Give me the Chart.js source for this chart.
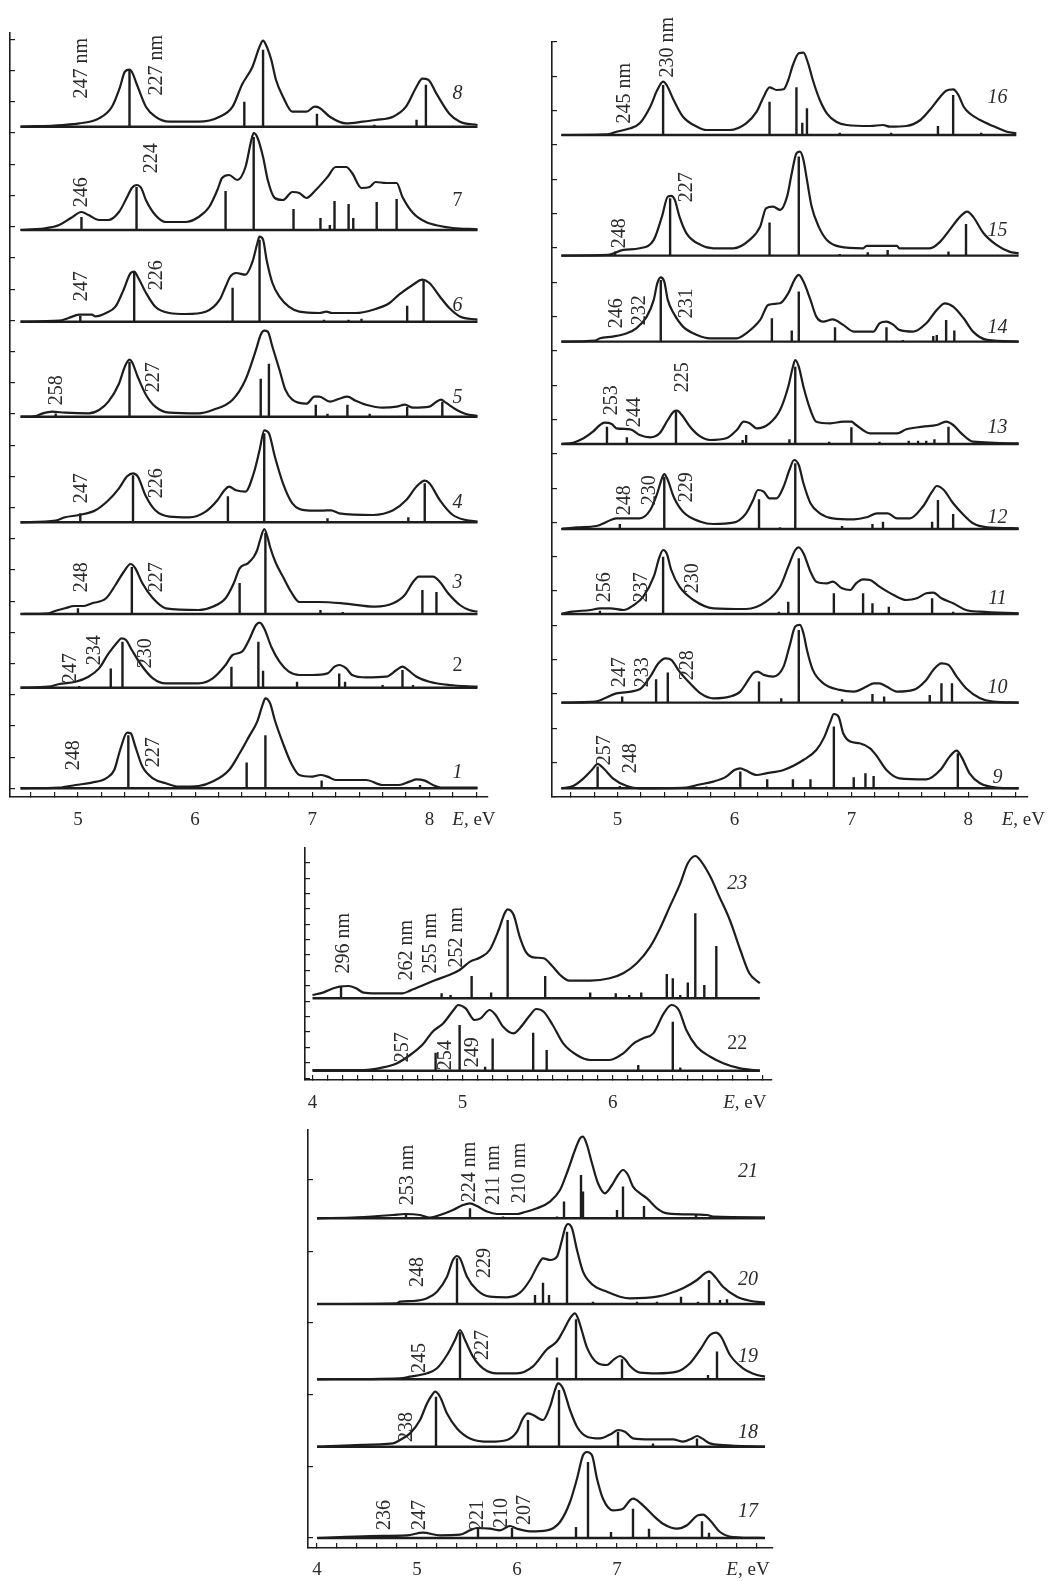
<!DOCTYPE html>
<html>
<head>
<meta charset="utf-8">
<script src="https://cdn.jsdelivr.net/npm/chart.js@4.4.1/dist/chart.umd.min.js"></script>
<style>
  body { margin: 0; background: #fff; width: 1048px; height: 1581px; position: relative; overflow: hidden; }
  canvas { position: absolute; }
</style>
</head>
<body>
<canvas id="panelA" width="520" height="835" style="left:0px;top:0px"></canvas>
<canvas id="panelB" width="518" height="835" style="left:530px;top:0px"></canvas>
<canvas id="panelC" width="500" height="285" style="left:280px;top:835px"></canvas>
<canvas id="panelD" width="500" height="461" style="left:280px;top:1120px"></canvas>
<script>
// spectra: [E (eV), intensity (arb. units)], sticks: [E, height]
const curve1 = [[4.51,0],[4.84,0.7],[4.98,3.3],[5.12,5.7],[5.24,10],[5.31,18.3],[5.36,38.3],[5.42,55.7],[5.45,55],[5.49,41.7],[5.55,21.7],[5.64,10],[5.75,5],[5.86,1.7],[6.03,2.3],[6.15,6.7],[6.29,18.3],[6.38,35],[6.46,51.7],[6.53,66.7],[6.58,85],[6.60,90],[6.64,85],[6.68,68.3],[6.75,45],[6.82,25],[6.89,13.3],[7.00,11.7],[7.07,13.3],[7.13,11.7],[7.20,8.3],[7.46,8.3],[7.60,3.3],[7.74,3.3],[7.83,6.7],[7.89,9],[7.96,7.7],[8.03,3.3],[8.11,0.7],[8.41,0.7]];
const sticks1 = [[5.43,53],[6.44,25.7],[6.60,53],[7.08,7.7],[7.92,3.3]];

const curve2 = [[4.51,0],[4.75,1],[4.84,3.7],[4.98,6],[5.09,11],[5.18,19.3],[5.26,34],[5.34,46],[5.37,49.3],[5.41,47.7],[5.46,37.7],[5.54,22.7],[5.64,9.3],[5.75,4.3],[6.03,4.3],[6.15,9.3],[6.26,22.7],[6.32,32.7],[6.40,36],[6.46,47.7],[6.52,62.7],[6.55,65],[6.59,59.3],[6.65,41],[6.72,26],[6.80,16],[6.89,12.7],[7.00,12.7],[7.13,14.3],[7.19,21],[7.23,22.7],[7.29,19.3],[7.34,12.7],[7.46,10.3],[7.63,11],[7.72,17.7],[7.77,21],[7.81,18.3],[7.89,11],[8.00,6],[8.17,2.7],[8.41,1]];
const sticks2 = [[5.01,1.7],[5.28,19.3],[5.38,46],[6.31,21],[6.54,46],[6.58,17],[6.87,6],[7.23,14.3],[7.28,6],[7.60,2.7],[7.77,17.7],[7.86,2.7]];

const curve3 = [[4.51,0],[4.75,0.7],[4.81,3.3],[4.89,5.7],[4.97,8],[5.05,8],[5.12,10.7],[5.24,15.7],[5.32,29],[5.39,42],[5.45,50],[5.49,45.7],[5.55,30.7],[5.64,15.7],[5.75,5.7],[6.03,4],[6.15,7.3],[6.26,15.7],[6.33,30.7],[6.38,45.7],[6.45,50.7],[6.50,57],[6.53,64],[6.56,76],[6.59,85],[6.62,76],[6.64,67],[6.69,50.7],[6.75,37.3],[6.82,22],[6.89,12],[7.06,12],[7.26,10.7],[7.54,7.3],[7.69,10.7],[7.79,19],[7.86,32],[7.91,37.3],[8.03,37.3],[8.09,32],[8.16,20.7],[8.26,9],[8.34,4],[8.41,2.3]];
const sticks3 = [[5.00,5.7],[5.46,47],[6.38,31],[6.60,81],[7.07,4],[7.26,2],[7.94,24],[8.06,22]];

const curve4 = [[4.51,0],[4.81,1.7],[4.89,5],[5.01,7.3],[5.15,12],[5.26,22],[5.35,34],[5.42,46],[5.47,49],[5.51,46],[5.58,26],[5.66,12],[5.78,5.7],[5.95,5],[6.09,10.7],[6.19,22],[6.25,32],[6.29,35.7],[6.35,32],[6.43,30.7],[6.50,49],[6.55,72],[6.59,92],[6.63,89],[6.68,66],[6.75,39],[6.83,19],[6.95,12],[7.09,11.7],[7.16,12],[7.23,9],[7.52,7.3],[7.69,12],[7.80,22],[7.89,35.7],[7.96,41.7],[8.00,39],[8.09,22],[8.20,7.3],[8.31,2.3],[8.41,0.7]];
const sticks4 = [[5.02,9],[5.47,47],[6.28,26],[6.59,89],[7.13,4],[7.82,5],[7.96,39]];

const curve5 = [[4.51,0],[4.64,0.7],[4.70,3.3],[4.78,5],[4.89,4],[5.09,3.3],[5.18,6.7],[5.26,15],[5.35,33],[5.40,50],[5.44,57],[5.46,55],[5.51,40],[5.58,22],[5.66,10],[5.78,4],[6.03,3.3],[6.15,6.7],[6.32,17],[6.43,37],[6.52,67],[6.56,82],[6.59,86],[6.62,85],[6.66,70],[6.72,47],[6.77,27],[6.83,17],[6.95,13],[7.02,20],[7.06,20],[7.15,15],[7.23,18],[7.30,20],[7.37,16],[7.46,12],[7.60,9],[7.72,10],[7.79,12],[7.86,9],[8.00,10],[8.06,15],[8.10,17],[8.14,14],[8.23,7],[8.31,2.7],[8.41,0.7]];
const sticks5 = [[4.81,3.3],[5.44,55],[6.56,38],[6.63,53],[7.03,12],[7.13,3],[7.30,12],[7.49,3],[7.81,10],[8.11,15]];

const curve6 = [[4.51,0],[4.84,1],[4.92,3.7],[5.01,7],[5.12,7],[5.15,5.3],[5.24,8.7],[5.32,15],[5.39,32],[5.45,48.7],[5.48,50],[5.51,45],[5.58,29],[5.66,15],[5.78,8.7],[5.92,7.7],[6.09,10],[6.21,22],[6.26,35],[6.30,45],[6.35,48.7],[6.43,47],[6.49,60],[6.53,78],[6.55,85],[6.58,82],[6.61,62],[6.66,38.7],[6.72,25],[6.80,15],[6.89,10],[7.06,8.7],[7.12,10],[7.17,8.7],[7.37,8.7],[7.52,12],[7.66,18.7],[7.74,27],[7.86,37],[7.94,42],[8.00,38.7],[8.09,25],[8.17,13.7],[8.26,5.3],[8.41,2]];
const sticks6 = [[5.02,6],[5.48,50],[6.32,34],[6.55,82],[7.10,2],[7.31,2],[7.42,3],[7.81,16],[7.95,42]];

const curve7 = [[4.51,0],[4.61,0.7],[4.72,1.7],[4.84,5],[4.94,12],[5.03,18],[5.09,15],[5.18,10],[5.26,10],[5.35,18],[5.42,33],[5.46,42],[5.50,45],[5.54,42],[5.58,30],[5.66,15],[5.75,8],[5.92,8],[6.03,13],[6.12,23],[6.19,40],[6.23,52],[6.29,55],[6.36,50],[6.43,63],[6.48,90],[6.50,97],[6.53,93],[6.58,73],[6.62,50],[6.68,32],[6.75,30],[6.83,38],[6.89,37],[6.95,32],[7.03,40],[7.13,53],[7.20,63],[7.29,63],[7.34,57],[7.42,42],[7.49,43],[7.54,48],[7.63,47],[7.72,47],[7.77,33],[7.86,17],[7.97,8],[8.09,4],[8.20,2],[8.41,0.7]];
const sticks7 = [[5.03,13],[5.50,43],[6.04,1],[6.26,39],[6.50,93],[6.84,21],[7.01,1],[7.07,12],[7.15,5],[7.19,29],[7.31,26],[7.35,12],[7.55,28],[7.72,31],[7.78,1]];

const curve8 = [[4.51,0],[4.87,1.7],[5.01,3.3],[5.18,8.3],[5.29,20],[5.36,40],[5.40,55],[5.44,57],[5.46,55],[5.51,40],[5.58,20],[5.66,10],[5.78,5],[6.03,5],[6.21,10],[6.32,20],[6.40,42],[6.49,60],[6.55,80],[6.58,86],[6.60,83],[6.65,67],[6.69,47],[6.75,30],[6.83,15],[6.95,15],[7.02,20],[7.06,19],[7.15,10],[7.29,3.3],[7.43,5],[7.54,6.7],[7.69,10],[7.80,20],[7.89,40],[7.94,48],[7.99,47],[8.06,33],[8.17,13],[8.26,5],[8.41,1.7]];
const sticks8 = [[5.44,57],[6.42,25],[6.58,77],[7.04,13],[7.53,2],[7.89,7],[7.97,42]];

const curve9 = [[4.52,0],[4.62,2.3],[4.71,10],[4.78,18.3],[4.83,24.3],[4.88,20],[4.96,10],[5.08,2.3],[5.19,0],[5.59,0.7],[5.68,3.3],[5.82,6.7],[5.93,11.7],[6.00,18.3],[6.05,20],[6.10,17.7],[6.19,13.3],[6.27,15],[6.42,18.3],[6.59,28.3],[6.70,38.3],[6.77,51.7],[6.82,66.7],[6.85,74.3],[6.89,71.7],[6.93,55],[6.99,46.7],[7.07,45],[7.16,40],[7.22,31.7],[7.30,18.3],[7.41,10],[7.64,9],[7.76,18.3],[7.84,31.7],[7.90,37.7],[7.94,31.7],[8.01,15],[8.10,5],[8.24,0.7],[8.43,0]];
const sticks9 = [[4.83,21.7],[5.02,2.3],[5.76,1.7],[6.05,16.7],[6.28,9],[6.50,9],[6.65,9],[6.85,61.7],[7.02,11],[7.12,15],[7.19,12.3],[7.91,35]];

const curve10 = [[4.52,0],[4.81,1],[4.89,4.3],[4.99,9.3],[5.19,13.3],[5.28,26],[5.35,39.3],[5.41,44.3],[5.46,42.7],[5.53,31],[5.62,19.3],[5.71,9.3],[5.82,4.3],[5.96,6],[6.05,11],[6.10,19.3],[6.16,29.3],[6.20,31],[6.25,27.7],[6.33,26],[6.42,36],[6.47,56],[6.52,76],[6.56,77.7],[6.59,69.3],[6.62,52.7],[6.67,32.7],[6.76,19.3],[6.90,12.7],[7.02,11],[7.13,16],[7.19,19.3],[7.24,19.3],[7.30,16],[7.39,11],[7.53,12.7],[7.64,22.7],[7.70,32.7],[7.77,39.3],[7.83,37.7],[7.90,26],[7.98,14.3],[8.10,4.3],[8.21,1],[8.43,0]];
const sticks10 = [[5.04,6],[5.33,23.3],[5.43,30],[6.21,21],[6.40,4.3],[6.55,72.7],[6.92,3.3],[7.18,8.7],[7.28,6],[7.67,7.7],[7.77,19.3],[7.86,19.3]];

const curve11 = [[4.52,0],[4.61,2.3],[4.77,4],[4.85,5.7],[4.94,5.7],[5.05,4],[5.14,9],[5.22,17.3],[5.31,37.3],[5.36,57.3],[5.39,64],[5.42,60.7],[5.46,44],[5.53,27.3],[5.65,14],[5.82,5.7],[6.10,5],[6.27,12.3],[6.39,27.3],[6.46,47.3],[6.52,64],[6.55,66.7],[6.59,60.7],[6.65,42.3],[6.70,32.3],[6.79,30.7],[6.84,32.3],[6.92,25.7],[6.99,24],[7.04,30.7],[7.10,34.7],[7.16,34],[7.24,27.3],[7.36,19],[7.47,14],[7.56,15.7],[7.64,20.7],[7.70,21.3],[7.77,15.7],[7.87,10.7],[7.98,4],[8.10,2.3],[8.43,0.7]];
const sticks11 = [[4.85,3.3],[5.39,57.3],[6.38,2.3],[6.46,12.3],[6.55,55.7],[6.85,20.7],[7.10,20.7],[7.18,10.7],[7.32,7.3],[7.69,15.7],[7.87,2.3]];

const curve12 = [[4.52,0],[4.65,1.7],[4.82,3],[4.91,7.3],[4.99,10.7],[5.19,10.7],[5.28,19],[5.34,35.7],[5.38,50.7],[5.40,55],[5.43,49],[5.48,32.3],[5.56,17.3],[5.71,7.3],[5.82,5],[5.99,6.3],[6.10,15.7],[6.16,29],[6.20,39],[6.25,37.3],[6.30,30.7],[6.36,30.7],[6.42,42.3],[6.47,59],[6.51,69],[6.55,64],[6.59,45.7],[6.65,25.7],[6.73,15.7],[6.84,10.7],[7.02,9.7],[7.13,11.7],[7.22,15.7],[7.31,15.7],[7.39,10.7],[7.50,10.7],[7.61,22.3],[7.69,37.3],[7.73,43],[7.79,39],[7.87,25.7],[7.96,14],[8.04,5.7],[8.16,1.7],[8.43,0.7]];
const sticks12 = [[5.02,5],[5.40,52.3],[6.21,29.7],[6.39,1.7],[6.52,65.7],[6.92,3],[7.18,5],[7.27,7.3],[7.69,7.3],[7.74,29],[7.87,15]];

const curve13 = [[4.52,0],[4.62,1.3],[4.71,5.7],[4.79,12.3],[4.85,19],[4.89,21.3],[4.95,20],[4.99,15.7],[5.11,14.7],[5.19,9],[5.28,6.7],[5.36,10.7],[5.43,24],[5.48,32.3],[5.51,33.3],[5.55,29],[5.62,17.3],[5.71,7.3],[5.79,4],[5.93,5.7],[6.02,14],[6.08,22.3],[6.13,20.7],[6.19,15.7],[6.30,20.7],[6.39,34],[6.46,57.3],[6.50,77.3],[6.52,84],[6.55,77.3],[6.59,57.3],[6.65,34],[6.70,22.3],[6.82,20.7],[6.93,22.3],[7.00,22.3],[7.04,19],[7.16,10.7],[7.39,10.7],[7.47,14.7],[7.61,17.3],[7.73,19],[7.81,22.3],[7.87,19],[7.94,10.7],[8.04,2.3],[8.43,0.7]];
const sticks13 = [[4.91,17.3],[5.08,6.7],[5.50,32.3],[6.07,4],[6.10,9],[6.47,4.7],[6.52,77.3],[6.81,2.3],[7.00,16.7],[7.24,2.3],[7.49,3.3],[7.57,3.3],[7.64,3.3],[7.71,4.7],[7.83,17.3]];

const curve14 = [[4.52,0],[4.81,1],[4.85,3.3],[4.96,5],[5.08,8.3],[5.16,13.3],[5.25,25],[5.31,41.7],[5.34,58.3],[5.37,64.3],[5.40,60],[5.43,41.7],[5.48,28.3],[5.56,15],[5.68,6.7],[5.79,3.3],[6.02,3.3],[6.10,8.3],[6.22,21.7],[6.29,36.7],[6.39,38.3],[6.46,48.3],[6.52,63.3],[6.55,66.7],[6.59,60],[6.65,41.7],[6.70,25],[6.76,20],[6.84,22.3],[6.93,16.7],[7.02,10],[7.19,10],[7.24,18.3],[7.30,20],[7.36,16.7],[7.41,11.7],[7.53,10],[7.64,18.3],[7.73,31.7],[7.80,38.3],[7.87,35],[7.96,23.3],[8.04,10],[8.16,1.7],[8.43,0]];
const sticks14 = [[5.37,61.7],[6.32,23.3],[6.49,11],[6.55,50],[6.86,14.3],[7.30,14.3],[7.44,1.7],[7.70,5.7],[7.73,6.7],[7.81,21.7],[7.88,11]];

const curve15 = [[4.52,0],[4.92,0.7],[5.05,5.7],[5.19,7.3],[5.31,15.7],[5.38,39],[5.43,59],[5.46,59.7],[5.49,55.7],[5.53,39],[5.59,22.3],[5.71,10.7],[5.82,7.3],[5.99,7.3],[6.13,15.7],[6.22,29],[6.27,47.3],[6.33,49],[6.39,45.7],[6.45,59],[6.49,82.3],[6.53,102.3],[6.56,104],[6.59,95.7],[6.62,75.7],[6.66,49],[6.72,29],[6.79,15.7],[6.90,9],[7.10,7.3],[7.13,9.7],[7.39,9.7],[7.41,7.3],[7.67,7.3],[7.76,14],[7.84,25.7],[7.93,39],[7.99,44],[8.04,39],[8.13,22.3],[8.24,10.7],[8.35,4],[8.43,2.3]];
const sticks15 = [[4.98,4],[5.45,57.3],[6.30,33],[6.55,99],[6.90,1.7],[7.14,3.3],[7.31,5.7],[7.83,4],[7.98,31.7]];

const curve16 = [[4.52,0],[4.92,0.7],[4.99,3.3],[5.11,6.7],[5.19,11.7],[5.28,28.3],[5.34,45],[5.39,53.3],[5.42,50],[5.48,35],[5.56,18.3],[5.68,8.3],[5.76,5],[5.96,5],[6.10,11.7],[6.19,23.3],[6.25,38.3],[6.30,47.7],[6.36,45],[6.42,45.7],[6.46,55],[6.50,70],[6.55,81.7],[6.59,82.3],[6.63,71.7],[6.67,55],[6.73,35],[6.79,21.7],[6.87,13.3],[6.96,10],[7.16,9],[7.27,10],[7.33,8.3],[7.47,9],[7.59,15],[7.67,25],[7.76,38.3],[7.81,44.3],[7.87,45.7],[7.91,41],[7.96,28.3],[8.01,21.7],[8.10,15],[8.21,9],[8.33,3.3],[8.41,1.7]];
const sticks16 = [[5.39,50],[6.30,33.3],[6.53,47.7],[6.58,12.3],[6.62,26.7],[6.90,2.3],[7.34,2.3],[7.74,9],[7.87,40],[8.11,2.3]];

const curve17 = [[4.00,0],[4.53,2],[4.90,2.7],[5.06,5.3],[5.23,2.7],[5.43,3.3],[5.53,7.7],[5.60,10],[5.73,9.3],[5.83,7.7],[5.93,12],[6.00,9.3],[6.13,6.7],[6.30,7.7],[6.43,16],[6.53,36],[6.60,59.3],[6.66,82.7],[6.70,86],[6.75,82.7],[6.80,59.3],[6.86,39.3],[6.96,27.7],[7.06,29.3],[7.13,37.7],[7.16,39.3],[7.26,32.7],[7.36,22.7],[7.46,14.3],[7.60,9.3],[7.70,12.7],[7.81,22.7],[7.86,23.3],[7.93,17.7],[8.03,6],[8.16,1],[8.48,0]];
const sticks17 = [[5.61,9.3],[5.95,10],[6.59,11],[6.71,76],[6.94,6],[7.16,29.3],[7.32,9.3],[7.85,16.7],[7.92,5.3]];

const curve18 = [[4.00,0],[4.38,1.7],[4.76,3.3],[4.83,6.7],[4.93,13.3],[5.03,26.7],[5.10,43.3],[5.15,51.7],[5.18,55],[5.23,50],[5.30,33.3],[5.40,18.3],[5.53,8.3],[5.73,5],[5.90,6.7],[6.00,15],[6.06,28.3],[6.11,33.3],[6.16,31.7],[6.26,26.7],[6.33,40],[6.38,56.7],[6.41,63.3],[6.46,58.3],[6.53,36.7],[6.60,20],[6.70,10],[6.83,8.3],[6.95,13.3],[7.01,16.7],[7.08,15],[7.16,8.3],[7.33,7.3],[7.56,7.3],[7.66,5],[7.75,8.3],[7.80,10.7],[7.85,8.3],[7.93,3.3],[8.06,1.7],[8.48,0]];
const sticks18 = [[5.19,50],[6.11,26.7],[6.42,56.7],[7.01,15],[7.36,3.3],[7.80,8.3]];

const curve19 = [[4.00,0],[4.83,1],[4.93,2.7],[5.10,6],[5.20,11],[5.30,24.3],[5.38,39.3],[5.43,49.3],[5.48,39.3],[5.56,22.7],[5.66,11],[5.80,6],[6.00,6],[6.16,13],[6.30,30],[6.40,38],[6.46,48],[6.53,61],[6.58,66],[6.62,58],[6.65,48],[6.70,31.7],[6.80,16.7],[6.90,14.3],[6.97,20],[7.03,23.3],[7.08,20],[7.13,13.3],[7.23,6.7],[7.40,6],[7.60,7.7],[7.73,16],[7.83,29.3],[7.93,44.3],[7.99,46.7],[8.04,42.7],[8.13,24.3],[8.26,11],[8.40,4.3],[8.48,2.7]];
const sticks19 = [[5.43,47],[6.40,21.7],[6.59,60],[7.05,20],[7.91,4.3],[8.00,27.7]];

const curve20 = [[4.00,0],[4.80,0.7],[4.83,2.3],[4.96,3],[5.10,5.7],[5.20,12.3],[5.30,27.3],[5.36,44],[5.40,48],[5.43,45.7],[5.50,27.3],[5.60,14],[5.73,7.3],[5.90,6.7],[6.03,11.3],[6.13,24],[6.21,39],[6.26,45.7],[6.33,44],[6.40,47.3],[6.45,64],[6.48,75.7],[6.51,80],[6.55,75.7],[6.60,54],[6.66,32.3],[6.76,19],[6.90,12.3],[7.03,7.3],[7.13,5.7],[7.40,7.3],[7.53,10.7],[7.66,15.7],[7.80,24],[7.88,30.7],[7.92,32.3],[7.98,27.3],[8.06,17.3],[8.20,7.3],[8.33,3.3],[8.48,1.3]];
const sticks20 = [[5.40,45.7],[6.18,9],[6.26,21.3],[6.32,9],[6.50,72.3],[6.76,2.3],[7.20,2.3],[7.40,2.3],[7.64,7.3],[7.81,2.3],[7.92,24],[8.03,4],[8.10,4.7]];

const curve21 = [[4.00,0],[4.40,1],[4.76,3.3],[4.88,4.3],[5.03,3.3],[5.13,0.7],[5.23,3.3],[5.36,8.3],[5.46,13.3],[5.53,15],[5.60,12.3],[5.70,6.7],[5.80,4.3],[6.00,4.3],[6.06,5.7],[6.20,10],[6.33,16.7],[6.43,28.3],[6.51,48.3],[6.58,68.3],[6.63,80],[6.66,81.7],[6.70,73.3],[6.75,55],[6.81,35],[6.88,25],[6.95,33.3],[7.01,43.3],[7.06,48.3],[7.11,43.3],[7.16,31.7],[7.23,25],[7.30,20],[7.40,10],[7.50,5],[7.90,3.3],[7.96,1.7],[8.48,1]];
const sticks21 = [[4.89,3.3],[5.53,10],[5.86,1.7],[6.40,1.7],[6.47,16.7],[6.64,43.3],[6.66,26.7],[7.00,8.3],[7.06,31.7],[7.21,1],[7.27,12.3],[7.79,3.3]];

const curve22 = [[4.00,0.7],[4.34,0.7],[4.47,3.3],[4.56,7.3],[4.65,15.7],[4.74,27.3],[4.80,39],[4.87,47.3],[4.94,60.7],[4.97,65.7],[5.02,62.3],[5.08,50.7],[5.12,52.3],[5.18,60.7],[5.22,55.7],[5.27,44],[5.34,37.3],[5.38,42.3],[5.45,55.7],[5.49,61.7],[5.54,59],[5.60,45.7],[5.67,27.3],[5.76,15.7],[5.85,10.7],[5.98,10.7],[6.07,17.3],[6.14,27.3],[6.20,32.3],[6.27,37.3],[6.34,57.3],[6.39,65.7],[6.44,60.7],[6.49,40.7],[6.56,24],[6.65,14],[6.74,7.3],[6.85,2.3],[6.98,0]];
const sticks22 = [[4.82,18],[4.98,45.7],[5.15,4],[5.20,32.3],[5.47,38],[5.56,20.7],[6.17,5.7],[6.40,49],[6.45,3.3]];

const curve23 = [[4.00,3.3],[4.07,5.7],[4.14,10],[4.18,11.7],[4.24,12.3],[4.29,10],[4.34,5.7],[4.42,5],[4.60,5],[4.65,7.7],[4.74,13.3],[4.82,18.3],[4.91,23.3],[4.98,28.3],[5.05,36.7],[5.12,41],[5.18,48.3],[5.24,68.3],[5.28,85],[5.30,89],[5.34,83.3],[5.38,61.7],[5.42,46.7],[5.47,41],[5.54,40],[5.60,31.7],[5.65,23.3],[5.71,17.7],[5.85,17.7],[5.98,20],[6.07,25],[6.16,35],[6.25,51.7],[6.31,68.3],[6.38,91.7],[6.45,115],[6.50,135],[6.55,142.3],[6.59,136.7],[6.65,121.7],[6.71,101.7],[6.78,78.3],[6.85,48.3],[6.91,25],[6.98,15]];
const sticks23 = [[4.19,11.7],[4.86,5],[4.92,3.3],[5.06,22.3],[5.19,5.7],[5.30,78.3],[5.55,22.3],[5.85,5.7],[6.02,5],[6.11,3.3],[6.19,5.7],[6.36,24.3],[6.40,20],[6.45,3.3],[6.50,15.7],[6.55,85],[6.61,13.3],[6.69,52.3]];

// vertical offsets of the stacked spectra
const offsetsA = [0, 100.6, 174.3, 266, 371.6, 466.6, 558.3, 661.6];   // curves 1-8
const offsetsB = [0, 85.7, 174.3, 259.3, 344.3, 446.7, 532.7, 653.3];  // curves 9-16
const offsetsC = [7.6, 80];                                            // curves 22-23
const offsetsD = [0, 91.3, 158.7, 234, 319.7];                         // curves 17-21

// tick labels on the energy axes
const ticksA = [5, 6, 7, 8];
const ticksB = [5, 6, 7, 8];
const ticksC = [4, 5, 6];
const ticksD = [4, 5, 6, 7];

// wavelength notes: [text, E, level]
const notesA = [['247 nm',5.03,720],['227 nm',5.67,723],['246',5.03,596],['224',5.63,630],['247',5.03,502],['226',5.67,513],['258',4.82,398],['227',5.65,411],['247',5.03,300],['226',5.67,305],['248',5.03,211],['227',5.67,211],['247',4.94,120],['234',5.14,138],['230',5.58,135],['248',4.96,33],['227',5.65,36]];
const notesB = [['245 nm',5.06,695],['230 nm',5.43,741],['248',5.02,555],['227',5.59,601],['246',4.99,475],['232',5.19,478],['231',5.59,485],['253',4.95,388],['244',5.15,376],['225',5.56,411],['248',5.06,288],['230',5.28,298],['229',5.59,301],['256',4.89,201],['237',5.21,201],['230',5.64,210],['247',5.02,116],['233',5.22,116],['228',5.60,123],['257',4.89,38],['248',5.11,30]];
const notesC = [['296 nm',4.21,135],['262 nm',4.63,128],['255 nm',4.79,135],['252 nm',4.96,141],['257',4.60,31],['254',4.89,23],['249',5.07,26]];
const notesD = [['253 nm',4.91,363],['224 nm',5.53,366],['211 nm',5.77,363],['210 nm',6.03,365],['248',5.01,266],['229',5.68,275],['245',5.03,180],['227',5.66,193],['238',4.90,111],['236',4.68,23],['247',5.03,23],['221',5.61,23],['210',5.85,25],['207',6.08,28]];

// curve numbers: [name, level]
const numsA = [['1',16],['2',123],['3',206],['4',286],['5',391],['6',483],['7',588],['8',695]];
const numsB = [['9',11],['10',101],['11',190],['12',271],['13',361],['14',461],['15',558],['16',691]];
const numsC = [['22',35],['23',195]];
const numsD = [['17',26],['18',105],['19',181],['20',258],['21',366]];
const upright = ['2', '7', '22'];

const INK = '#1d1d1d';
const TXT = '#2b2b2b';
const SERIF = '"Liberation Serif", "DejaVu Serif", serif';

function curveSet(pts, base) {
    return {
        data: pts.map(([e, h]) => ({ x: e, y: base + h })),
        borderColor: INK, borderWidth: 2.2, pointRadius: 0,
        cubicInterpolationMode: 'monotone', borderJoinStyle: 'round'
    };
}

function stickSet(pts, sticks, base) {
    const first = pts[0][0], last = pts[pts.length - 1][0];
    const d = [{ x: first, y: base }, { x: last, y: base }, { x: last, y: null }];
    sticks.forEach(([e, h]) => d.push({ x: e, y: base }, { x: e, y: base + h }, { x: e, y: null }));
    return { data: d, borderColor: INK, borderWidth: 2.4, pointRadius: 0, tension: 0, spanGaps: false };
}

function textPlugin(p) {
    return {
        id: 'texts',
        afterDraw(chart) {
            const { ctx } = chart;
            const x = chart.scales.x, y = chart.scales.y;
            ctx.save();
            ctx.fillStyle = TXT;
            ctx.textAlign = 'center';
            ctx.textBaseline = 'middle';
            ctx.font = '20px ' + SERIF;
            p.notes.forEach(([t, e, v]) => {
                ctx.save();
                ctx.translate(x.getPixelForValue(e), y.getPixelForValue(v));
                ctx.rotate(-Math.PI / 2);
                ctx.fillText(t, 0, 0);
                ctx.restore();
            });
            p.nums.forEach(([t, v]) => {
                ctx.font = (upright.includes(t) ? '' : 'italic ') + '20px ' + SERIF;
                ctx.fillText(t, x.getPixelForValue(p.numX), y.getPixelForValue(v));
            });
            // axis title "E, eV"
            const ey = chart.chartArea.bottom + p.labelDy;
            ctx.font = 'italic 19px ' + SERIF;
            const w1 = ctx.measureText('E').width;
            ctx.font = '19px ' + SERIF;
            const w2 = ctx.measureText(', eV').width;
            const sx = x.getPixelForValue(p.eX) - (w1 + w2) / 2;
            ctx.textAlign = 'left';
            ctx.font = 'italic 19px ' + SERIF;
            ctx.fillText('E', sx, ey);
            ctx.font = '19px ' + SERIF;
            ctx.fillText(', eV', sx + w1, ey);
            ctx.restore();
        }
    };
}

function makePanel(id, p) {
    const datasets = [];
    p.curves.forEach((c, i) => {
        datasets.push(curveSet(c, p.offsets[i]));
        datasets.push(stickSet(c, p.sticks[i], p.offsets[i]));
    });
    new Chart(document.getElementById(id), {
        type: 'line',
        data: { datasets },
        options: {
            responsive: false,
            animation: false,
            devicePixelRatio: 1,
            layout: { padding: p.pad },
            plugins: { legend: { display: false }, tooltip: { enabled: false } },
            scales: {
                x: {
                    type: 'linear', min: p.xmin, max: p.xmax,
                    afterFit: s => { s.height = 30; },
                    border: { color: INK, width: 1.6 },
                    grid: { drawOnChartArea: false, tickLength: -5, color: INK, lineWidth: 1.2 },
                    ticks: {
                        stepSize: p.xstep, includeBounds: false, autoSkip: false, maxRotation: 0, minRotation: 0,
                        padding: p.labelDy - 6, color: TXT,
                        font: { family: SERIF, size: 19 },
                        callback: v => p.ticks.some(t => Math.abs(t - v) < 1e-6) ? String(Math.round(v)) : ''
                    }
                },
                y: {
                    type: 'linear', min: p.ymin, max: p.ymax,
                    afterFit: s => { s.width = 0; },
                    border: { color: INK, width: 1.6 },
                    grid: { drawOnChartArea: false, tickLength: -5, color: INK, lineWidth: 1.2 },
                    ticks: { display: false, includeBounds: false, stepSize: p.ystep }
                }
            }
        },
        plugins: [textPlugin(p)]
    });
}

makePanel('panelA', {
    curves: [curve1, curve2, curve3, curve4, curve5, curve6, curve7, curve8],
    sticks: [sticks1, sticks2, sticks3, sticks4, sticks5, sticks6, sticks7, sticks8],
    offsets: offsetsA, ticks: ticksA, notes: notesA, nums: numsA, numX: 8.24, eX: 8.38,
    pad: { left: 10, top: 33, right: 32, bottom: 8 },
    xmin: 4.42, xmax: 8.5, xstep: 0.2, ymin: -8.7, ymax: 755.3, ystep: 31.2, labelDy: 23
});

makePanel('panelB', {
    curves: [curve9, curve10, curve11, curve12, curve13, curve14, curve15, curve16],
    sticks: [sticks9, sticks10, sticks11, sticks12, sticks13, sticks14, sticks15, sticks16],
    offsets: offsetsB, ticks: ticksB, notes: notesB, nums: numsB, numX: 8.25, eX: 8.47,
    pad: { left: 22, top: 42, right: 20, bottom: 8 },
    xmin: 4.44, xmax: 8.51, xstep: 0.2, ymin: -8.7, ymax: 746.3, ystep: 34.36, labelDy: 23
});

makePanel('panelC', {
    curves: [curve22, curve23],
    sticks: [sticks22, sticks23],
    offsets: offsetsC, ticks: ticksC, notes: notesC, nums: numsC, numX: 6.83, eX: 6.88,
    pad: { left: 25, top: 13, right: 8, bottom: 10 },
    xmin: 3.95, xmax: 7.06, xstep: 0.1, ymin: -1.7, ymax: 230.3, ystep: 15.4, labelDy: 23
});

makePanel('panelD', {
    curves: [curve17, curve18, curve19, curve20, curve21],
    sticks: [sticks17, sticks18, sticks19, sticks20, sticks21],
    offsets: offsetsD, ticks: ticksD, notes: notesD, nums: numsD, numX: 8.31, eX: 8.31,
    pad: { left: 28, top: 10, right: 7, bottom: 3 },
    xmin: 3.91, xmax: 8.56, xstep: 0.2, ymin: -10, ymax: 408, ystep: 71.7, labelDy: 22
});
</script>
</body>
</html>
